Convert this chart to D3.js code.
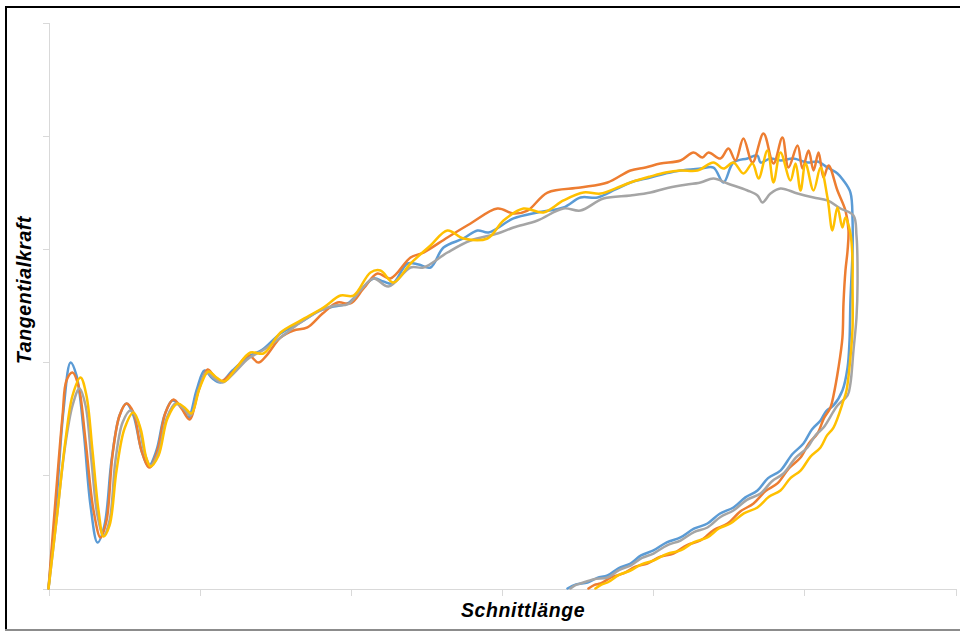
<!DOCTYPE html>
<html>
<head>
<meta charset="utf-8">
<script src="https://cdn.jsdelivr.net/npm/d3@7"></script>
<style>
  html, body { margin: 0; padding: 0; background: #fff; }
  svg { display: block; }
  .axis path, .axis line { stroke: #D9D9D9; stroke-width: 1; shape-rendering: crispEdges; }
  .lbl { font-family: "Liberation Sans", Arial, sans-serif; font-weight: bold; font-style: italic; fill: #000; }
</style>
</head>
<body>
<svg id="chart" width="960" height="631"></svg>
<script>
// Axis titles
const xTitle = "Schnittlänge";
const yTitle = "Tangentialkraft";

// Axis tick values (no tick labels shown)
const xTicks = [0, 10, 20, 30, 40, 50, 60];
const yTicks = [0, 100, 200, 300, 400, 500];

// Series names and colours
const seriesNames = ["Reihe 1", "Reihe 2", "Reihe 3", "Reihe 4"];
const seriesColors = ["#5B9BD5", "#ED7D31", "#A5A5A5", "#FFC000"];

// Series 1 (blue): [Schnittlänge, Tangentialkraft]
const series1 = [
 [0,0],[0.53,77.7],[0.99,157.2],[1.46,199.6],[1.85,188.2],[2.32,139.6],[2.78,73.3],[3.24,40.6],[3.70,55.7],[4.17,113.1],
 [4.70,152.8],[5.16,163.4],[5.62,152.8],[6.15,121.9],[6.62,107.8],[7.14,121.9],[7.67,152.8],[8.20,166.1],[8.80,159.9],[9.26,151.1],
 [9.79,174.9],[10.32,192.6],[10.85,185.5],[11.38,182.0],[12.17,192.6],[13.23,204.9],[14.16,211.1],[15.35,225.3],[16.67,235.0],[17.99,245.6],
 [18.85,249.1],[19.78,251.8],[20.64,263.3],[21.50,273.9],[22.16,271.2],[22.76,269.4],[23.75,287.1],[24.48,286.2],[25.27,283.6],[26.13,301.2],
 [27.45,309.2],[28.38,316.3],[29.11,314.5],[30.76,326.9],[32.35,332.2],[34.07,336.6],[35.19,345.4],[36.32,345.4],[37.51,352.5],[38.50,358.7],
 [39.82,363.1],[40.82,366.6],[41.81,369.3],[43.13,371.0],[43.99,371.9],[44.65,358.7],[45.31,376.3],[46.24,379.9],[46.90,382.5],[47.10,376.3],
 [47.76,379.9],[48.42,378.1],[49.28,379.9],[50.21,376.3],[50.87,377.2],[51.53,371.9],[52.19,366.6],[52.59,360.4],[53.05,349.8],[53.19,325.1],
 [53.19,298.6],[53.05,254.4],[52.99,219.1],[52.86,195.2],[52.52,174.9],[51.93,161.7],[51.45,156.8],[51.07,148.4],[50.50,140.5],[49.94,128.1],
 [49.20,118.6],[48.42,104.2],[47.60,97.5],[46.90,86.6],[46.10,80.5],[45.31,71.6],[44.40,66.0],[43.59,57.4],[42.70,52.8],[41.81,45.1],
 [40.90,40.8],[40.02,33.6],[39.20,29.2],[38.50,22.1],[37.70,17.9],[36.98,11.5],[36.30,9.4],[35.66,5.3],[34.90,3.6],[34.33,0]
];

// Series 2 (orange)
const series2 = [
 [0,0],[0.46,77.7],[0.93,152.8],[1.19,183.7],[1.59,190.8],[1.98,179.3],[2.45,130.7],[2.98,68.9],[3.44,45.1],[3.84,60.1],
 [4.23,117.5],[4.70,152.8],[5.16,163.4],[5.62,155.5],[6.15,121.9],[6.68,106.9],[7.21,121.9],[7.74,155.5],[8.27,167.0],[8.80,159.0],
 [9.33,149.3],[9.92,174.9],[10.52,193.5],[10.98,187.3],[11.38,182.9],[12.17,190.8],[13.23,205.8],[13.89,199.6],[14.42,205.8],[15.35,221.7],
 [16.21,227.9],[17.13,230.6],[18.13,242.9],[19.12,252.6],[19.98,251.8],[20.84,265.0],[21.76,278.3],[22.62,273.9],[23.95,292.4],[24.81,296.8],
 [26.39,310.1],[27.92,322.4],[29.70,335.7],[30.76,331.3],[31.69,333.9],[33.01,349.8],[35.19,354.2],[36.98,358.7],[38.50,369.3],[39.49,371.9],
 [40.48,375.4],[41.81,378.1],[42.67,385.2],[43.26,380.7],[43.66,385.2],[44.45,379.9],[44.98,388.7],[45.45,378.1],[45.97,397.5],[46.57,376.3],
 [47.30,401.9],[47.96,375.4],[48.55,398.4],[48.95,371.9],[49.55,391.3],[49.88,371.0],[50.28,386.9],[50.61,369.3],[50.94,385.2],[51.27,363.1],
 [51.60,373.7],[52.19,351.6],[52.72,333.9],[52.92,316.3],[52.86,298.6],[52.72,280.9],[52.59,251.8],[52.52,221.7],[52.26,195.2],[51.93,170.5],
 [51.73,159.9],[51.30,150.5],[50.87,136.9],[50.31,128.4],[49.75,115.7],[48.99,106.3],[48.22,92.8],[47.43,86.0],[46.64,75.1],[45.78,68.2],
 [44.92,57.4],[44.03,51.8],[43.13,42.4],[42.24,38.4],[41.34,30.9],[40.48,28.1],[39.62,22.1],[38.83,19.2],[38.04,13.3],[37.28,10.2],
 [36.52,4.4],[36.12,3.2],[35.72,0]
];

// Series 3 (grey)
const series3 = [
 [0,0],[0.53,60.1],[1.06,121.9],[1.59,161.7],[2.05,176.7],[2.45,161.7],[2.84,113.1],[3.24,64.5],[3.64,46.8],[4.04,60.1],
 [4.43,113.1],[4.90,146.6],[5.42,157.2],[5.89,148.4],[6.35,120.1],[6.75,108.7],[7.28,120.1],[7.81,150.2],[8.40,163.4],[8.93,159.0],
 [9.39,152.8],[9.92,174.9],[10.45,190.8],[10.98,185.5],[11.51,182.0],[12.30,190.8],[13.23,203.2],[14.16,210.2],[15.35,221.7],[16.67,235.0],
 [17.99,245.6],[18.92,250.0],[19.78,250.9],[20.64,263.3],[21.50,273.9],[22.49,266.8],[23.95,283.6],[24.81,283.6],[26.39,296.8],[27.92,307.4],
 [29.70,313.6],[30.76,318.9],[32.35,325.1],[34.07,335.7],[35.19,333.9],[36.71,344.5],[38.50,347.2],[39.82,349.8],[40.82,353.4],[41.81,356.0],
 [43.13,358.7],[43.99,362.2],[44.92,357.8],[46.24,351.6],[46.90,347.2],[47.23,341.0],[47.76,348.9],[48.42,353.4],[49.55,348.9],[50.61,345.4],
 [51.53,342.8],[52.39,335.7],[53.25,329.5],[53.45,311.8],[53.52,269.4],[53.45,239.4],[53.25,210.2],[53.05,181.1],[52.86,170.5],[52.19,161.7],
 [51.27,142.2],[50.74,135.4],[50.21,124.6],[49.42,115.3],[48.62,101.6],[47.86,94.8],[47.10,83.9],[46.20,78.3],[45.31,68.9],[44.45,63.2],
 [43.59,53.9],[42.70,49.8],[41.81,42.4],[40.92,38.2],[40.02,30.9],[39.26,27.0],[38.50,20.3],[37.74,16.3],[36.98,9.7],[36.08,8.2],
 [35.19,4.4],[34.86,3.0],[34.53,0]
];

// Series 4 (yellow)
const series4 = [
 [0,0],[0.60,68.9],[1.12,130.7],[1.59,170.5],[2.12,186.4],[2.51,170.5],[2.91,121.9],[3.31,68.9],[3.64,45.9],[4.04,55.7],
 [4.50,104.2],[5.03,141.3],[5.62,155.5],[6.09,141.3],[6.48,114.8],[6.75,107.8],[7.28,117.5],[7.87,150.2],[8.53,163.4],[9.00,159.9],
 [9.46,154.6],[9.99,176.7],[10.58,191.7],[11.11,186.4],[11.64,182.9],[12.44,195.2],[13.36,208.5],[14.22,207.6],[15.35,226.1],[16.67,236.7],
 [18.19,248.2],[19.32,258.8],[20.18,258.8],[21.30,279.2],[21.96,280.9],[22.82,270.3],[23.95,287.1],[25.27,303.0],[26.39,316.3],[27.45,309.2],
 [29.04,309.2],[30.10,325.1],[31.42,335.7],[32.74,332.2],[34.07,342.8],[35.39,349.8],[36.52,348.9],[37.51,353.4],[38.50,358.7],[39.82,364.0],
 [40.82,367.5],[41.81,369.3],[42.93,369.3],[43.99,376.3],[44.65,371.0],[45.31,376.3],[45.97,366.6],[46.57,375.4],[46.97,362.2],[47.56,386.9],
 [47.96,358.7],[48.42,385.2],[49.08,360.4],[49.42,375.4],[49.75,351.6],[50.08,375.4],[50.61,351.6],[51.07,371.9],[51.53,345.4],[51.86,316.3],
 [52.19,336.6],[52.52,318.9],[52.72,327.7],[53.05,313.6],[53.19,289.8],[53.19,269.4],[53.19,230.6],[53.05,204.1],[52.79,174.9],[52.59,166.1],
 [51.93,142.2],[51.50,135.3],[51.07,124.6],[50.41,116.5],[49.75,104.2],[49.08,97.5],[48.42,86.6],[47.66,81.0],[46.90,71.6],[46.00,66.3],
 [45.11,57.4],[44.35,53.0],[43.59,45.1],[42.70,41.0],[41.81,33.6],[40.92,30.6],[40.02,24.7],[39.26,21.6],[38.50,15.9],[37.74,12.0],
 [36.98,5.3],[36.58,3.5],[36.18,0]
];

const allSeries = [series1, series2, series3, series4];

const svg = d3.select("#chart");
const W = 960, H = 631;

// Outer frame
svg.append("line").attr("x1", 5).attr("x2", W).attr("y1", 7).attr("y2", 7)
  .attr("stroke", "#000").attr("stroke-width", 2);
svg.append("line").attr("x1", 6).attr("x2", 6).attr("y1", 6).attr("y2", H)
  .attr("stroke", "#000").attr("stroke-width", 2);
svg.append("line").attr("x1", 5).attr("x2", W).attr("y1", 630).attr("y2", 630)
  .attr("stroke", "#8c8c8c").attr("stroke-width", 2);

const x = d3.scaleLinear().domain([0, 60]).range([48.5, 955.5]);
const y = d3.scaleLinear().domain([0, 500]).range([588.5, 22.5]);

svg.append("g").attr("class", "axis")
  .attr("transform", `translate(${x(0)},0)`)
  .call(d3.axisLeft(y).tickValues(yTicks).tickSize(6).tickSizeOuter(6).tickFormat(""));

svg.append("g").attr("class", "axis")
  .attr("transform", `translate(0,${y(0)})`)
  .call(d3.axisBottom(x).tickValues(xTicks).tickSize(7).tickSizeOuter(7).tickFormat(""));

const line = d3.line()
  .x(d => x(d[0]))
  .y(d => y(d[1]))
  .curve(d3.curveCatmullRom.alpha(0.5));

svg.append("g").selectAll("path")
  .data(allSeries)
  .join("path")
  .attr("d", d => line(d))
  .attr("fill", "none")
  .attr("stroke", (d, i) => seriesColors[i])
  .attr("stroke-width", 2.5)
  .attr("stroke-linejoin", "round")
  .attr("stroke-linecap", "round");

svg.append("text").attr("class", "lbl")
  .attr("x", 523).attr("y", 617)
  .attr("text-anchor", "middle")
  .style("font-size", "19.5px")
  .style("letter-spacing", "0.6px")
  .text(xTitle);

svg.append("text").attr("class", "lbl")
  .attr("transform", "translate(31,290) rotate(-90)")
  .attr("text-anchor", "middle")
  .style("font-size", "19.5px")
  .style("letter-spacing", "0.6px")
  .text(yTitle);
</script>
</body>
</html>
